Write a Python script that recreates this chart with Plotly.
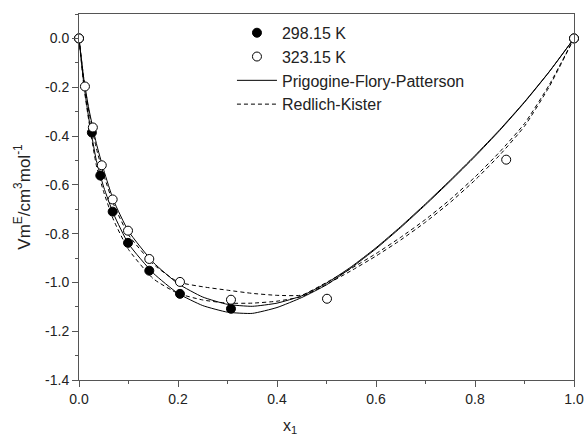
import plotly.graph_objects as go

# Experimental points
x_298 = [0.0, 0.026, 0.043, 0.068, 0.099, 0.142, 0.204, 0.307, 1.0]
y_298 = [0.0, -0.386, -0.562, -0.710, -0.838, -0.952, -1.047, -1.108, 0.0]

x_323 = [0.0, 0.012, 0.028, 0.046, 0.068, 0.099, 0.142, 0.204, 0.307, 0.501, 0.863, 1.0]
y_323 = [0.0, -0.197, -0.365, -0.520, -0.660, -0.788, -0.904, -0.998, -1.071, -1.067, -0.497, 0.0]

# Fitted curves
x_fit = [0.0, 0.01, 0.02, 0.035, 0.05, 0.07, 0.1, 0.15, 0.2, 0.25, 0.3, 0.35, 0.4,
         0.45, 0.5, 0.55, 0.6, 0.65, 0.7, 0.75, 0.8, 0.85, 0.9, 0.95, 1.0]
pfp_298 = [0.0, -0.19, -0.33, -0.50, -0.61, -0.72, -0.842, -0.962, -1.045, -1.095, -1.122, -1.127, -1.103,
           -1.062, -1.01, -0.94, -0.862, -0.775, -0.682, -0.585, -0.484, -0.377, -0.262, -0.137, 0.0]
pfp_323 = [0.0, -0.17, -0.29, -0.43, -0.54, -0.665, -0.79, -0.918, -1.005, -1.06, -1.09, -1.098, -1.085,
           -1.055, -1.003, -0.936, -0.858, -0.771, -0.678, -0.581, -0.48, -0.374, -0.26, -0.136, 0.0]
rk_298 = [0.0, -0.20, -0.34, -0.52, -0.63, -0.745, -0.865, -0.985, -1.045, -1.072, -1.085, -1.085, -1.077,
          -1.058, -1.008, -0.952, -0.892, -0.826, -0.753, -0.672, -0.581, -0.478, -0.36, -0.198, 0.0]
rk_323 = [0.0, -0.17, -0.30, -0.45, -0.56, -0.68, -0.805, -0.925, -0.998, -1.018, -1.032, -1.045, -1.053,
          -1.052, -1.0, -0.943, -0.882, -0.815, -0.742, -0.66, -0.568, -0.465, -0.349, -0.19, 0.0]

y_ticks = [0.0, -0.2, -0.4, -0.6, -0.8, -1.0, -1.2, -1.4]
y_tick_text = ["0.0", "-0.2", "-0.4", "-0.6", "-0.8", "-1.0", "-1.2", "-1.4"]
x_ticks = [0.0, 0.2, 0.4, 0.6, 0.8, 1.0]
x_tick_text = ["0.0", "0.2", "0.4", "0.6", "0.8", "1.0"]

FONT = "Arial, Liberation Sans, sans-serif"
fig = go.Figure()

line_style = dict(color="black", width=1, shape="spline", smoothing=0.5)
dash_style = dict(color="black", width=1, dash="4px,3px", shape="spline", smoothing=0.5)

fig.add_trace(go.Scatter(x=x_fit, y=pfp_298, mode="lines", name="Prigogine-Flory-Patterson",
                         line=line_style, legendgroup="c", legendrank=3, showlegend=True))
fig.add_trace(go.Scatter(x=x_fit, y=pfp_323, mode="lines", name="Prigogine-Flory-Patterson",
                         line=line_style, showlegend=False))
fig.add_trace(go.Scatter(x=x_fit, y=rk_298, mode="lines", name="Redlich-Kister",
                         line=dash_style, legendgroup="d", legendrank=4, showlegend=True))
fig.add_trace(go.Scatter(x=x_fit, y=rk_323, mode="lines", name="Redlich-Kister",
                         line=dash_style, showlegend=False))
fig.add_trace(go.Scatter(x=x_298, y=y_298, mode="markers", name="298.15 K",
                         marker=dict(symbol="circle", size=9, color="black",
                                     line=dict(color="black", width=1)),
                         legendgroup="a", legendrank=1, cliponaxis=False))
fig.add_trace(go.Scatter(x=x_323, y=y_323, mode="markers", name="323.15 K",
                         marker=dict(symbol="circle", size=9, color="white",
                                     line=dict(color="black", width=1)),
                         legendgroup="b", legendrank=2, cliponaxis=False))

axis_common = dict(showline=True, linecolor="#555", linewidth=1, mirror=True,
                   ticks="outside", ticklen=6, tickcolor="#555", showgrid=False, zeroline=False,
                   automargin=False,
                   tickfont=dict(family=FONT, size=14, color="#222"))

fig.update_xaxes(range=[0, 1], tickvals=x_ticks, ticktext=x_tick_text,
                 minor=dict(dtick=0.1, tick0=0, ticks="outside", ticklen=3, tickcolor="#555"),
                 **axis_common)
fig.update_yaxes(range=[-1.4, 0.1], tickvals=y_ticks, ticktext=y_tick_text,
                 minor=dict(dtick=0.1, tick0=0, ticks="outside", ticklen=3, tickcolor="#555"),
                 title=dict(text="Vm<sup>E</sup>/cm<sup>3</sup>mol<sup>-1</sup>",
                            font=dict(family=FONT, size=17, color="#222"), standoff=10),
                 **axis_common)

fig.add_annotation(text="x<sub>1</sub>", xref="paper", yref="paper", x=0.426, y=-0.128,
                   xanchor="center", yanchor="middle", showarrow=False,
                   font=dict(family=FONT, size=16, color="#222"))

fig.update_layout(
    width=584, height=438,
    margin=dict(l=79, r=10, t=14, b=58),
    paper_bgcolor="white", plot_bgcolor="white",
    showlegend=True,
    legend=dict(x=0.309, y=0.995, xanchor="left", yanchor="top",
                bgcolor="rgba(0,0,0,0)", borderwidth=0, itemwidth=40,
                traceorder="grouped", tracegroupgap=0,
                font=dict(family=FONT, size=16, color="#222")),
)

fig.write_html("out.html", config={"displayModeBar": False},
               post_script="document.body.style.margin='0';document.body.style.overflow='hidden';")
